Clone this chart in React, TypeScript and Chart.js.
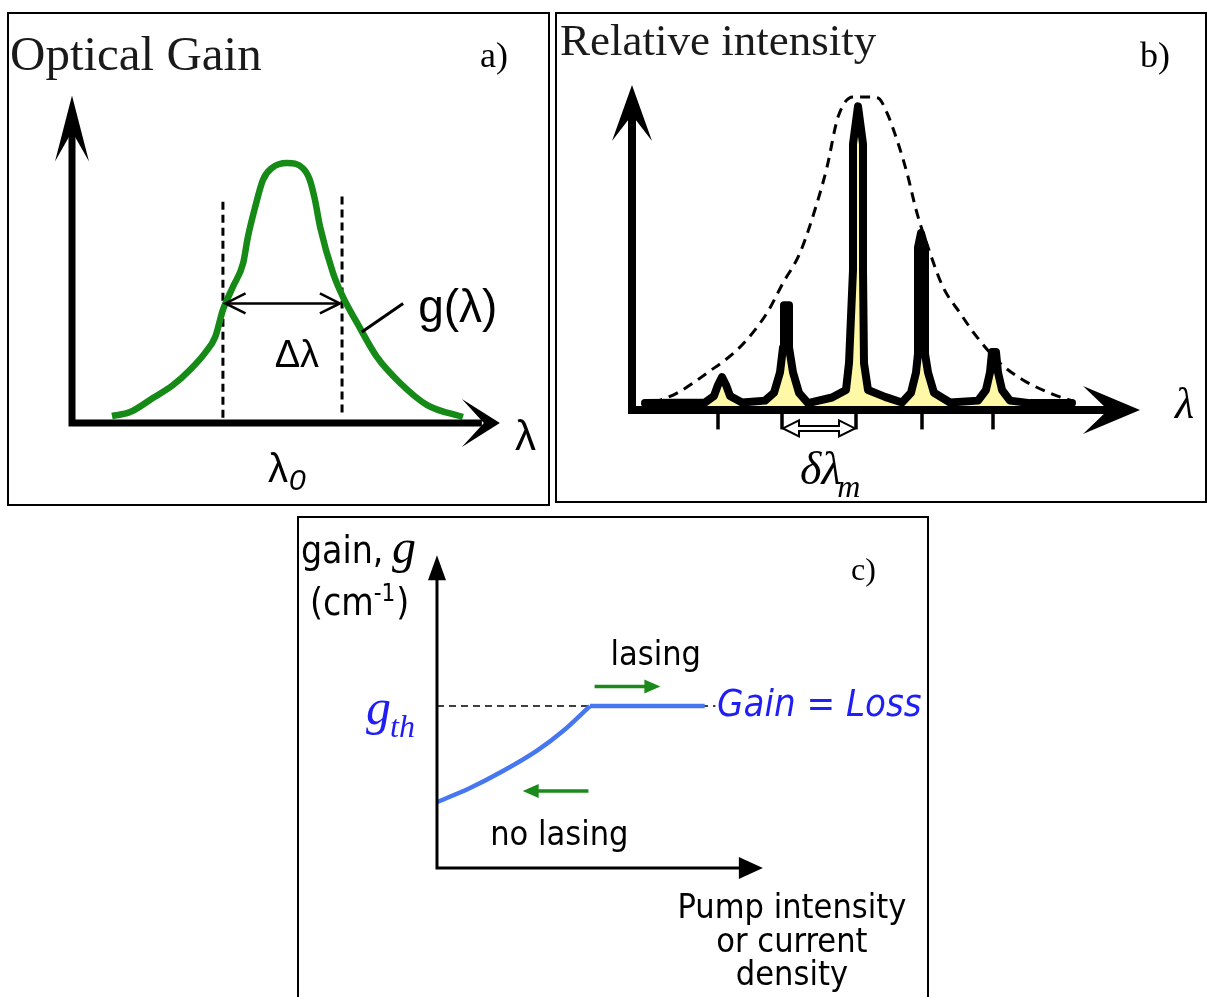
import React, { useEffect, useRef } from "react";
import { Chart, registerables } from "chart.js";

Chart.register(...registerables);

const SERIF = '"Liberation Serif", "Times New Roman", serif';
const SANS = '"Liberation Sans", Arial, sans-serif';
const COND = '"DejaVu Sans Condensed", "DejaVu Sans", sans-serif';

// ---------- a) optical gain spectrum g(λ) ----------
const gainWavelength = [0.93, 1.35, 1.88, 2.35, 2.74, 3.09, 3.33, 3.51, 3.74, 3.98, 4.09, 4.26, 4.44, 4.65, 5.0, 5.37, 5.53, 5.65, 5.77, 6.07, 6.3, 6.63, 7.09, 7.63, 8.26, 9.09];
const gainValue = [0.027, 0.042, 0.096, 0.146, 0.204, 0.269, 0.331, 0.435, 0.523, 0.615, 0.715, 0.831, 0.935, 0.981, 1.0, 0.98, 0.935, 0.858, 0.754, 0.577, 0.485, 0.385, 0.254, 0.154, 0.069, 0.023];
const halfWidthEdges = [3.51, 6.28];
const halfWidthMarkerBottom = [0.02, 0.04];
const halfWidthMarkerTop = [0.868, 0.887];
const halfMaxLevel = 0.46;

// ---------- b) laser output: longitudinal modes under the gain envelope ----------
const spectrumWavelength = [1.3, 7.3, 8.2, 8.6, 9.0, 9.4, 9.8, 11.0, 13.3, 14.2, 14.8, 15.1, 15.2, 15.7, 15.7, 16.1, 16.7, 17.6, 20.0, 21.4, 21.7, 22.1, 22.1, 22.6, 23.1, 23.1, 23.2, 23.6, 25.3, 27.0, 27.9, 28.4, 28.6, 28.6, 28.9, 29.3, 29.3, 29.6, 30.2, 31.8, 34.6, 35.4, 35.8, 36.0, 36.4, 36.6, 37.0, 37.8, 39.8, 44.0];
const spectrumIntensity = [2.2, 2.4, 4.5, 8, 10.5, 8, 4.5, 2.4, 3.0, 5.5, 12, 20, 33.5, 33.5, 20, 12, 5.5, 2.2, 4.0, 6.4, 15, 44.7, 85, 97, 85, 44.7, 15, 6.4, 4.2, 2.4, 5.5, 12, 18, 52, 56.5, 52, 18, 12, 5.5, 2.4, 3.0, 6.4, 12, 18.5, 18.5, 12, 6.4, 3.0, 2.2, 2.2];
const envelopeWavelength = [2.1, 4.5, 7.5, 10.8, 13.5, 15.1, 16.8, 18.5, 19.5, 20.6, 22.1, 23.5, 24.6, 25.5, 26.6, 27.5, 28.5, 29.8, 31.1, 32.8, 34.5, 36.8, 39.1, 41.8, 44.3];
const envelopeIntensity = [2.2, 5.4, 11.8, 20.1, 31, 40.6, 50.2, 66.1, 77.6, 93.6, 100, 100, 99.7, 94.9, 85.3, 75.7, 62.9, 50.2, 39.3, 31, 23.3, 15, 9.6, 5.4, 2.6];
const modeWavelengths = [8.6, 15.0, 22.4, 29.0, 36.1];

// ---------- c) gain clamping above threshold ----------
const belowThresholdPump = [0, 0.216, 0.431, 0.654, 0.824, 1.0];
const belowThresholdGain = [0.407, 0.494, 0.599, 0.725, 0.846, 1.0];
const aboveThresholdPump = [1.0, 1.75];
const thresholdGain = 1.0;
const thresholdLineEnd = 1.82;

type XY = [number, number];

function at(chart: any, x: number, y: number): XY {
  return [chart.scales.x.getPixelForValue(x), chart.scales.y.getPixelForValue(y)];
}

function barbArrow(ctx: CanvasRenderingContext2D, tip: XY, angle: number, len: number, half: number, notch: number) {
  const dx = Math.cos(angle), dy = Math.sin(angle);
  const nx = -dy, ny = dx;
  ctx.beginPath();
  ctx.moveTo(tip[0], tip[1]);
  ctx.lineTo(tip[0] - dx * len + nx * half, tip[1] - dy * len + ny * half);
  ctx.lineTo(tip[0] - dx * notch, tip[1] - dy * notch);
  ctx.lineTo(tip[0] - dx * len - nx * half, tip[1] - dy * len - ny * half);
  ctx.closePath();
  ctx.fill();
}

function triangleArrow(ctx: CanvasRenderingContext2D, tip: XY, angle: number, len: number, half: number) {
  barbArrow(ctx, tip, angle, len, half, len);
}

function chevron(ctx: CanvasRenderingContext2D, tip: XY, angle: number, len: number, half: number) {
  const dx = Math.cos(angle), dy = Math.sin(angle);
  const nx = -dy, ny = dx;
  ctx.beginPath();
  ctx.moveTo(tip[0] - dx * len + nx * half, tip[1] - dy * len + ny * half);
  ctx.lineTo(tip[0], tip[1]);
  ctx.lineTo(tip[0] - dx * len - nx * half, tip[1] - dy * len - ny * half);
  ctx.stroke();
}

function text(ctx: CanvasRenderingContext2D, s: string, x: number, y: number, font: string, color = "#000", align: CanvasTextAlign = "left") {
  ctx.font = font;
  ctx.fillStyle = color;
  ctx.textAlign = align;
  ctx.textBaseline = "alphabetic";
  ctx.fillText(s, x, y);
  return ctx.measureText(s).width;
}

function baseOptions(xr: [number, number], yr: [number, number]) {
  return {
    responsive: false,
    animation: false,
    devicePixelRatio: 1,
    events: [],
    layout: { padding: 0 },
    plugins: { legend: { display: false }, tooltip: { enabled: false }, title: { display: false } },
    elements: { point: { radius: 0 } },
    scales: {
      x: { type: "linear", min: xr[0], max: xr[1], display: false },
      y: { type: "linear", min: yr[0], max: yr[1], display: false },
    },
  };
}

function pts(xs: number[], ys: number[]) {
  return xs.map((x, i) => ({ x, y: ys[i] }));
}

// ---------- panel a ----------
function buildGainChart() {
  const markers = halfWidthEdges.map((x, i) => ({
    data: [{ x, y: halfWidthMarkerBottom[i] }, { x, y: halfWidthMarkerTop[i] }],
    borderColor: "#000",
    borderWidth: 3,
    borderDash: [8, 5],
    fill: false,
    order: 2,
  }));
  const plugin = {
    id: "gainDecor",
    afterDatasetsDraw(chart: any) {
      const ctx: CanvasRenderingContext2D = chart.ctx;
      ctx.save();
      ctx.fillStyle = "#000";
      ctx.strokeStyle = "#000";
      const o = at(chart, 0, 0);
      const xt = at(chart, 9.95, 0);
      const yt = at(chart, 0, 1.26);
      ctx.lineWidth = 7;
      ctx.lineJoin = "miter";
      ctx.beginPath();
      ctx.moveTo(o[0], yt[1] + 34);
      ctx.lineTo(o[0], o[1]);
      ctx.lineTo(xt[0] - 18, o[1]);
      ctx.stroke();
      barbArrow(ctx, yt, -Math.PI / 2, 66, 17, 36);
      barbArrow(ctx, xt, 0, 38, 24, 16);

      // Δλ double arrow at half maximum
      const l = at(chart, halfWidthEdges[0] + 0.06, halfMaxLevel);
      const r = at(chart, halfWidthEdges[1] - 0.05, halfMaxLevel);
      ctx.lineWidth = 2.5;
      ctx.beginPath();
      ctx.moveTo(l[0], l[1]);
      ctx.lineTo(r[0], r[1]);
      ctx.stroke();
      chevron(ctx, l, Math.PI, 20, 10);
      chevron(ctx, r, 0, 20, 10);

      // leader line to the curve label
      const a = at(chart, 6.74, 0.35);
      const b = at(chart, 7.7, 0.46);
      ctx.lineWidth = 3;
      ctx.beginPath();
      ctx.moveTo(a[0], a[1]);
      ctx.lineTo(b[0], b[1]);
      ctx.stroke();

      const dl = at(chart, 5.23, 0.215);
      text(ctx, "Δλ", dl[0], dl[1], `38px ${SANS}`, "#000", "center");
      const gl = at(chart, 8.05, 0.388);
      text(ctx, "g(λ)", gl[0], gl[1], `46px ${SANS}`);
      const la = at(chart, 10.3, -0.104);
      text(ctx, "λ", la[0], la[1], `42px ${SANS}`);
      const l0 = at(chart, 4.56, -0.227);
      const w = text(ctx, "λ", l0[0], l0[1], `40px ${SANS}`);
      text(ctx, "0", l0[0] + w + 1, l0[1] + 8, `italic 30px ${SANS}`);

      text(ctx, "Optical Gain", 3, 58, `49px ${SERIF}`, "#1a1a1a");
      text(ctx, "a)", 473, 55, `36px ${SERIF}`);

      ctx.lineWidth = 2;
      ctx.strokeRect(1, 1, chart.width - 2, chart.height - 2);
      ctx.restore();
    },
  };
  return {
    type: "line",
    data: {
      datasets: [
        {
          data: pts(gainWavelength, gainValue),
          borderColor: "#168a16",
          borderWidth: 6.5,
          cubicInterpolationMode: "monotone",
          fill: false,
          order: 1,
        },
        ...markers,
      ],
    },
    options: baseOptions([-1.5116, 11.116], [-0.3192, 1.5808]),
    plugins: [plugin],
  };
}

// ---------- panel b ----------
function buildModeChart() {
  const plugin = {
    id: "modeDecor",
    afterDatasetsDraw(chart: any) {
      const ctx: CanvasRenderingContext2D = chart.ctx;
      ctx.save();
      ctx.fillStyle = "#000";
      ctx.strokeStyle = "#000";
      const o = at(chart, 0, 0);
      const xt = at(chart, 50.8, 0);
      const yt = at(chart, 0, 103.8);
      ctx.lineWidth = 8;
      ctx.lineJoin = "miter";
      ctx.beginPath();
      ctx.moveTo(o[0], yt[1] + 30);
      ctx.lineTo(o[0], o[1]);
      ctx.lineTo(xt[0] - 30, o[1]);
      ctx.stroke();
      barbArrow(ctx, yt, -Math.PI / 2, 56, 20, 30);
      barbArrow(ctx, xt, 0, 57, 24, 32);

      ctx.lineWidth = 3.5;
      for (const m of modeWavelengths) {
        const p = at(chart, m, 0);
        const q = at(chart, m, -6.2);
        ctx.beginPath();
        ctx.moveTo(p[0], p[1]);
        ctx.lineTo(q[0], q[1]);
        ctx.stroke();
      }

      // hollow double arrow for the mode spacing
      const s = at(chart, modeWavelengths[1] + 0.1, -5.9);
      const e = at(chart, modeWavelengths[2] - 0.1, -5.9);
      const hl = 16, hh = 8, sh = 2.5;
      ctx.beginPath();
      ctx.moveTo(s[0], s[1]);
      ctx.lineTo(s[0] + hl, s[1] - hh);
      ctx.lineTo(s[0] + hl, s[1] - sh);
      ctx.lineTo(e[0] - hl, e[1] - sh);
      ctx.lineTo(e[0] - hl, e[1] - hh);
      ctx.lineTo(e[0], e[1]);
      ctx.lineTo(e[0] - hl, e[1] + hh);
      ctx.lineTo(e[0] - hl, e[1] + sh);
      ctx.lineTo(s[0] + hl, s[1] + sh);
      ctx.lineTo(s[0] + hl, s[1] + hh);
      ctx.closePath();
      ctx.fillStyle = "#fff";
      ctx.fill();
      ctx.lineWidth = 2;
      ctx.stroke();

      const dl = at(chart, 16.8, -23.6);
      const w = text(ctx, "δλ", dl[0], dl[1], `italic 46px ${SERIF}`);
      text(ctx, "m", dl[0] + w - 4, dl[1] + 13, `italic 32px ${SERIF}`);
      const la = at(chart, 54.3, -2.6);
      text(ctx, "λ", la[0], la[1], `italic 44px ${SERIF}`);

      text(ctx, "Relative intensity", 5, 43, `45px ${SERIF}`, "#1a1a1a");
      text(ctx, "b)", 585, 55, `36px ${SERIF}`);

      ctx.lineWidth = 2;
      ctx.strokeStyle = "#000";
      ctx.strokeRect(1, 1, chart.width - 2, chart.height - 2);
      ctx.restore();
    },
  };
  return {
    type: "line",
    data: {
      datasets: [
        {
          data: pts(envelopeWavelength, envelopeIntensity),
          borderColor: "#000",
          borderWidth: 3,
          borderDash: [10, 7],
          cubicInterpolationMode: "monotone",
          fill: false,
          order: 0,
        },
        {
          data: pts(spectrumWavelength, spectrumIntensity),
          borderColor: "#000",
          borderWidth: 8,
          borderJoinStyle: "round",
          borderCapStyle: "round",
          backgroundColor: "#fff8a6",
          tension: 0,
          fill: "origin",
          order: 1,
        },
      ],
    },
    options: baseOptions([-7.7, 57.5], [-29.71, 127.16]),
    plugins: [plugin],
  };
}

// ---------- panel c ----------
function buildThresholdChart() {
  const plugin = {
    id: "thresholdDecor",
    afterDatasetsDraw(chart: any) {
      const ctx: CanvasRenderingContext2D = chart.ctx;
      ctx.save();
      ctx.fillStyle = "#000";
      ctx.strokeStyle = "#000";
      const o = at(chart, 0, 0);
      const xt = at(chart, 2.13, 0);
      const yt = at(chart, 0, 1.93);
      ctx.lineWidth = 3;
      ctx.beginPath();
      ctx.moveTo(o[0], yt[1] + 20);
      ctx.lineTo(o[0], o[1]);
      ctx.lineTo(xt[0] - 20, o[1]);
      ctx.stroke();
      triangleArrow(ctx, yt, -Math.PI / 2, 25, 9);
      triangleArrow(ctx, xt, 0, 24, 11);

      // direction arrows
      const green = "#1a8a1a";
      const arrows: [number, number, number][] = [
        [1.03, 1.46, 1.12],
        [0.99, 0.56, 0.475],
      ];
      ctx.strokeStyle = green;
      ctx.fillStyle = green;
      ctx.lineWidth = 3.5;
      for (const [x0, x1, y] of arrows) {
        const p0 = at(chart, x0, y);
        const p1 = at(chart, x1, y);
        const dir = x1 > x0 ? 0 : Math.PI;
        const back = x1 > x0 ? -12 : 12;
        ctx.beginPath();
        ctx.moveTo(p0[0], p0[1]);
        ctx.lineTo(p1[0] + back, p1[1]);
        ctx.stroke();
        triangleArrow(ctx, p1, dir, 16, 7);
      }

      const blue = "#1e1ef5";
      const ls = at(chart, 1.43, 1.253);
      text(ctx, "lasing", ls[0], ls[1], `34px ${COND}`, "#000", "center");
      const nl = at(chart, 0.8, 0.142);
      text(ctx, "no lasing", nl[0], nl[1], `34px ${COND}`, "#000", "center");
      const gl = at(chart, 1.83, 0.938);
      text(ctx, "Gain = Loss", gl[0], gl[1], `italic 38px ${COND}`, blue);

      const gt = at(chart, -0.464, 0.889);
      const gw = text(ctx, "g", gt[0], gt[1], `italic 50px ${SERIF}`, blue);
      text(ctx, "th", gt[0] + gw - 1, gt[1] + 13, `italic 32px ${SERIF}`, blue);

      const gn = at(chart, -0.889, 1.88);
      const w1 = text(ctx, "gain, ", gn[0], gn[1], `37px ${COND}`);
      text(ctx, "g", gn[0] + w1 - 2, gn[1], `italic 48px ${SERIF}`);
      const cm = at(chart, -0.83, 1.562);
      const w2 = text(ctx, "(cm", cm[0], cm[1], `37px ${COND}`);
      const w3 = text(ctx, "-1", cm[0] + w2, cm[1] - 14, `24px ${COND}`);
      text(ctx, ")", cm[0] + w2 + w3 + 1, cm[1], `37px ${COND}`);

      const px = at(chart, 2.32, -0.309);
      text(ctx, "Pump intensity", px[0], px[1], `34px ${COND}`, "#000", "center");
      const py2 = at(chart, 2.32, -0.519);
      text(ctx, "or current", py2[0], py2[1], `34px ${COND}`, "#000", "center");
      const py3 = at(chart, 2.32, -0.722);
      text(ctx, "density", py3[0], py3[1], `34px ${COND}`, "#000", "center");

      text(ctx, "c)", 554, 64, `32px ${SERIF}`);

      ctx.strokeStyle = "#000";
      ctx.lineWidth = 2;
      ctx.beginPath();
      ctx.moveTo(1, chart.height);
      ctx.lineTo(1, 1);
      ctx.lineTo(chart.width - 1, 1);
      ctx.lineTo(chart.width - 1, chart.height);
      ctx.stroke();
      ctx.restore();
    },
  };
  const blueLine = "#4677f0";
  return {
    type: "line",
    data: {
      datasets: [
        {
          data: pts(belowThresholdPump, belowThresholdGain),
          borderColor: blueLine,
          borderWidth: 4.5,
          cubicInterpolationMode: "monotone",
          fill: false,
          order: 0,
        },
        {
          data: aboveThresholdPump.map((x) => ({ x, y: thresholdGain })),
          borderColor: blueLine,
          borderWidth: 4.5,
          fill: false,
          order: 0,
        },
        {
          data: [{ x: 0, y: thresholdGain }, { x: thresholdLineEnd, y: thresholdGain }],
          borderColor: "#000",
          borderWidth: 1.5,
          borderDash: [7, 5],
          fill: false,
          order: 1,
        },
      ],
    },
    options: baseOptions([-0.915, 3.216], [-0.796, 2.173]),
    plugins: [plugin],
  };
}

function ChartPanel({ left, top, width, height, build }: { left: number; top: number; width: number; height: number; build: () => any }) {
  const ref = useRef<HTMLCanvasElement>(null);
  useEffect(() => {
    const chart = new Chart(ref.current as HTMLCanvasElement, build());
    return () => chart.destroy();
  }, []);
  return (
    <canvas
      ref={ref}
      width={width}
      height={height}
      style={{ position: "absolute", left, top, width, height }}
    />
  );
}

export default function App() {
  return (
    <div style={{ position: "absolute", left: 0, top: 0, width: 1207, height: 997, background: "#fff", overflow: "hidden" }}>
      <ChartPanel left={7} top={12} width={543} height={494} build={buildGainChart} />
      <ChartPanel left={555} top={12} width={652} height={491} build={buildModeChart} />
      <ChartPanel left={297} top={516} width={632} height={481} build={buildThresholdChart} />
    </div>
  );
}
